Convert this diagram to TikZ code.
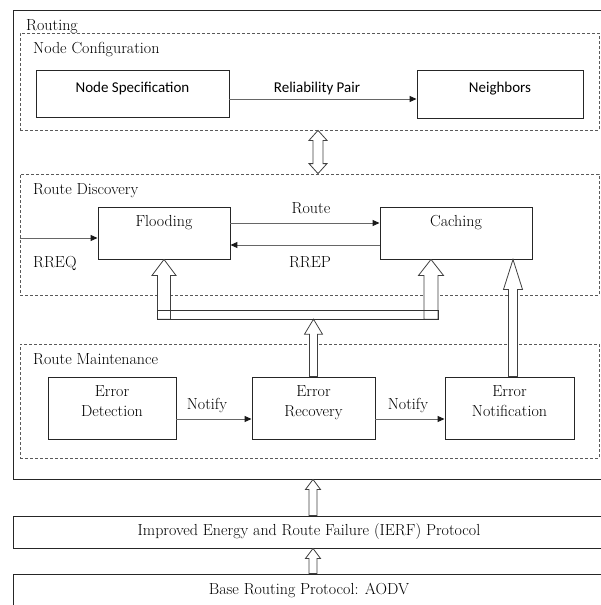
\documentclass[tikz,border=0pt]{standalone}
\usepackage{fontspec}
\newfontfamily\calibri{Carlito}
\usetikzlibrary{arrows.meta,calc}

% hollow up arrow: tip, tail, half shaft, half head, head length
\newcommand\hollowup[5]{%
  \draw[hollow] (#1) -- ($(#1)+(#4,#5)$) -- ($(#1)+(#3,#5)$) -- ($(#2)+(#3,0)$)
    -- ($(#2)+(-#3,0)$) -- ($(#1)+(-#3,#5)$) -- ($(#1)+(-#4,#5)$) -- cycle;}

\begin{document}
\begin{tikzpicture}[x=1pt,y=-1pt,font=\fontsize{16}{20}\selectfont,
  box/.style={draw=black!85, line width=0.9pt, inner sep=0pt},
  group/.style={draw=black!65, dash pattern=on 3pt off 2pt, line width=0.8pt, inner sep=0pt, minimum width=579pt},
  flow/.style={draw=black!60, line width=1pt, -{Triangle[length=7pt,width=6pt,color=black!90]}},
  hollow/.style={draw=black!75, fill=white, line width=0.8pt},
  sans/.style={font=\calibri\fontsize{15}{18}\selectfont},
  tag/.style={anchor=base west, inner sep=0pt},
  lbl/.style={anchor=base, inner sep=0pt}]
\useasboundingbox (0,0) rectangle (601,605);

%Outer frame and groups
\node[box, minimum width=602pt, minimum height=469pt] (routing) at (314,244.5) {};
\node[tag] (routingtag) at (26,30) {Routing};
\node[group, minimum height=97pt] (conf) at (309.5,81.5) {};
\node[tag] (conftag) at (33,53) {Node Configuration};
\node[group, minimum height=121pt] (disc) at (309.5,234.5) {};
\node[tag] (disctag) at (33,194) {Route Discovery};
\node[group, minimum height=114pt] (maint) at (309.5,401) {};
\node[tag] (mainttag) at (33,364) {Route Maintenance};

%Node configuration
\node[box, minimum width=193pt, minimum height=47pt] (spec) at (132.5,93.5) {};
\node[sans] (spectext) at ([yshift=5.2pt]spec) {Node Specification};
\node[box, minimum width=166pt, minimum height=48pt] (neigh) at (500,94) {};
\node[sans] (neightext) at ([yshift=5.7pt]neigh) {Neighbors};
\draw[flow] ([yshift=-5.5pt]spec.east) -- ([yshift=-5.5pt]spec.east -| neigh.west)
  node[lbl, sans, midway, yshift=7pt, xshift=-6pt] {Reliability Pair};

%Route discovery
\node[box, minimum width=132pt, minimum height=52pt] (flood) at (164,233) {};
\node (floodtext) at ([yshift=10pt]flood) {Flooding};
\node[box, minimum width=152pt, minimum height=52pt] (cache) at (456,233) {};
\node (cachetext) at ([yshift=10pt]cache) {Caching};
\draw[flow] ([yshift=10pt]flood.east) -- ([yshift=10pt]flood.east -| cache.west)
  node[lbl, midway, yshift=10pt, xshift=6pt] {Route};
\draw[flow] ([yshift=-12pt]cache.west) -- ([yshift=-12pt]cache.west -| flood.east)
  node[lbl, midway, yshift=-22pt, xshift=5pt] {RREP};
\coordinate (rreqin) at ([yshift=-5pt]flood.west -| disc.west);
\draw[flow] (rreqin) -- ([yshift=-5pt]flood.west);
\node[tag] (rreqtag) at (33,267) {RREQ};

%Route maintenance
\node[box, minimum width=128pt, minimum height=62pt] (detect) at (112,408) {};
\node[align=center] (detecttext) at ([yshift=6.5pt]detect) {Error\\Detection};
\node[box, minimum width=123pt, minimum height=62pt] (recov) at (313.5,408) {};
\node[align=center] (recovtext) at ([yshift=5pt]recov) {Error\\Recovery};
\node[box, minimum width=129pt, minimum height=62pt] (notif) at (509.5,408) {};
\node[align=center] (notiftext) at ([yshift=6.5pt]notif) {Error\\Notification};
\draw[flow] ([yshift=-11pt]detect.east) -- ([yshift=-11pt]detect.east -| recov.west)
  node[lbl, midway, yshift=10pt, xshift=-7pt] {Notify};
\draw[flow] ([yshift=-11pt]recov.east) -- ([yshift=-11pt]recov.east -| notif.west)
  node[lbl, midway, yshift=10pt, xshift=-2pt] {Notify};

%Between configuration and discovery
\coordinate (dtop) at ([xshift=8.5pt]conf.south);
\coordinate (dbot) at (dtop |- disc.north);
\draw[hollow] (dtop) -- ++(9,10) -- ++(-4,0) -- ($(dbot)+(5,-10)$) -- ++(4,0) -- (dbot)
  -- ++(-9,-10) -- ++(4,0) -- ($(dtop)+(-5,10)$) -- ++(-4,0) -- cycle;

%Bus to discovery
\node[inner sep=0pt, minimum width=280.5pt, minimum height=8pt] (bus) at (297.75,315) {};
\coordinate (floodtip) at (flood.south);
\coordinate (floodtail) at (flood.south |- bus.south);
\hollowup{floodtip}{floodtail}{6.5}{12}{16}
\coordinate (cachetip) at ([xshift=-25pt]cache.south);
\coordinate (cachetail) at (cachetip |- bus.south);
\hollowup{cachetip}{cachetail}{7}{12.5}{16}
\coordinate (recovtip) at (recov.north |- bus.south);
\hollowup{recovtip}{recov.north}{4}{9}{15}
\coordinate (notiftail) at ([xshift=3.5pt]notif.north);
\coordinate (notiftip) at (notiftail |- cache.south);
\hollowup{notiftip}{notiftail}{4.5}{9.5}{30}
\draw[draw=black!80, line width=0.8pt] (bus.north west) rectangle (bus.south east);

%Protocol layers
\node[box, minimum width=592pt, minimum height=32pt] (ierf) at (309,532) {Improved Energy and Route Failure (IERF) Protocol};
\node[box, minimum width=592pt, minimum height=50pt] (base) at (309,599) {};
\node (basetext) at ([yshift=8.7pt]base) {Base Routing Protocol: AODV};
\coordinate (ierfout) at ([xshift=4pt]ierf.north);
\coordinate (routingin) at (ierfout |- routing.south);
\hollowup{routingin}{ierfout}{4}{7.5}{10}
\coordinate (baseout) at ([xshift=4pt]base.north);
\coordinate (ierfin) at (baseout |- ierf.south);
\hollowup{ierfin}{baseout}{4}{7.5}{10}
\end{tikzpicture}
\end{document}
